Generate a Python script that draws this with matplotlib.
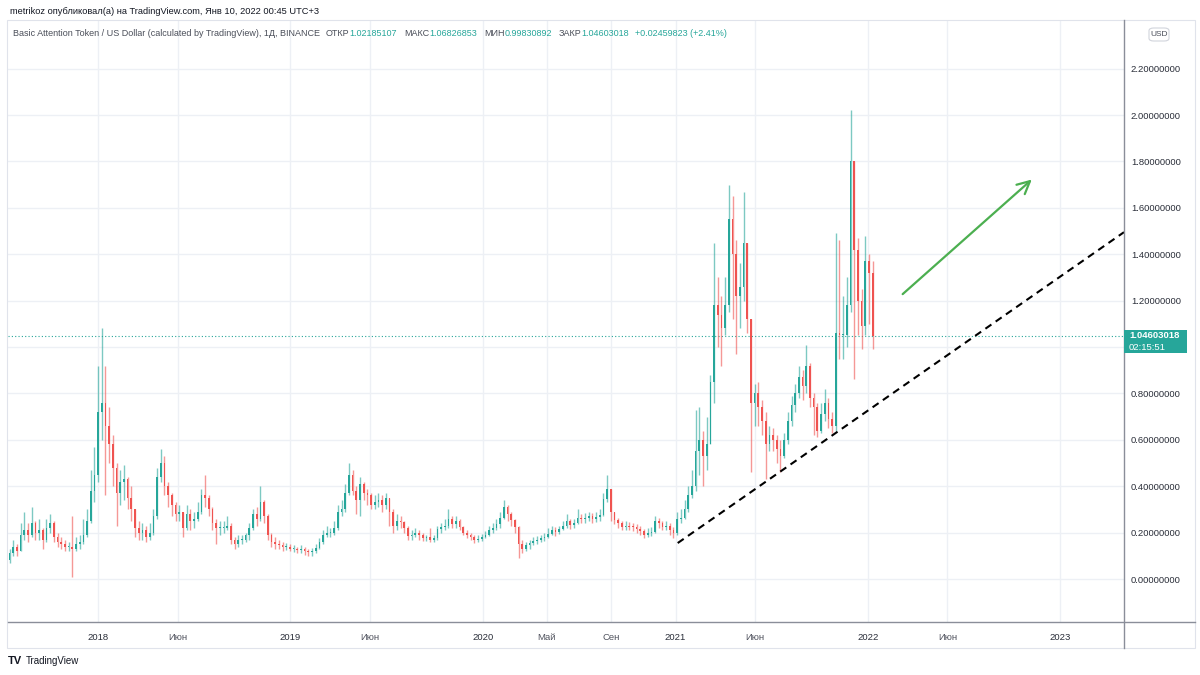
import numpy as np
import pandas as pd
import matplotlib
matplotlib.use("Agg")
import matplotlib.pyplot as plt
import matplotlib.dates as mdates
from matplotlib.lines import Line2D
from matplotlib.patches import Rectangle, FancyBboxPatch

plt.rcParams['font.family'] = ['Liberation Sans', 'DejaVu Sans']

# BAT/USD (Binance), weekly candles
start_date = "2017-07-17"
first_open = 0.08
closes = [0.11, 0.14, 0.12, 0.19, 0.21, 0.19, 0.24, 0.20, 0.21, 0.17,
          0.22, 0.24, 0.18, 0.16, 0.15, 0.14, 0.14, 0.13, 0.15, 0.16,
          0.19, 0.25, 0.38, 0.45, 0.72, 0.76, 0.66, 0.58, 0.48, 0.37,
          0.42, 0.43, 0.35, 0.30, 0.22, 0.20, 0.21, 0.18, 0.20, 0.27,
          0.44, 0.50, 0.40, 0.36, 0.32, 0.28, 0.29, 0.22, 0.28, 0.25,
          0.26, 0.29, 0.36, 0.35, 0.30, 0.24, 0.22, 0.22, 0.22, 0.23,
          0.17, 0.15, 0.17, 0.17, 0.19, 0.22, 0.28, 0.26, 0.33, 0.27,
          0.19, 0.16, 0.15, 0.145, 0.14, 0.14, 0.13, 0.13, 0.125, 0.13,
          0.12, 0.115, 0.12, 0.135, 0.16, 0.19, 0.20, 0.20, 0.22, 0.29,
          0.30, 0.37, 0.45, 0.38, 0.34, 0.41, 0.37, 0.36, 0.32, 0.33,
          0.34, 0.32, 0.35, 0.29, 0.23, 0.25, 0.245, 0.22, 0.185, 0.19,
          0.20, 0.19, 0.175, 0.18, 0.17, 0.175, 0.215, 0.225, 0.23, 0.26,
          0.235, 0.25, 0.225, 0.20, 0.19, 0.18, 0.168, 0.174, 0.18, 0.19,
          0.21, 0.22, 0.235, 0.265, 0.31, 0.28, 0.255, 0.225, 0.15, 0.13,
          0.145, 0.155, 0.165, 0.168, 0.175, 0.182, 0.195, 0.21, 0.203, 0.215,
          0.23, 0.25, 0.232, 0.24, 0.265, 0.26, 0.262, 0.272, 0.26, 0.267,
          0.275, 0.345, 0.39, 0.29, 0.255, 0.24, 0.225, 0.23, 0.225, 0.224,
          0.217, 0.205, 0.19, 0.20, 0.203, 0.25, 0.24, 0.225, 0.23, 0.21,
          0.20, 0.26, 0.265, 0.30, 0.36, 0.40, 0.55, 0.60, 0.53, 0.58,
          0.85, 1.18, 1.14, 1.08, 1.18, 1.55, 1.40, 1.22, 1.26, 1.45,
          1.12, 0.76, 0.80, 0.74, 0.68, 0.58, 0.62, 0.60, 0.56, 0.53,
          0.60, 0.68, 0.75, 0.80, 0.87, 0.83, 0.92, 0.78, 0.74, 0.64,
          0.71, 0.76, 0.69, 0.66, 1.06, 1.05, 1.05, 1.18, 1.80, 1.42,
          1.20, 1.09, 1.37, 1.32, 1.046]
highs = [0.13, 0.17, 0.15, 0.24, 0.29, 0.24, 0.31, 0.25, 0.26, 0.22,
         0.26, 0.28, 0.25, 0.20, 0.18, 0.17, 0.16, 0.27, 0.18, 0.19,
         0.26, 0.30, 0.47, 0.57, 0.92, 1.08, 0.92, 0.74, 0.62, 0.50,
         0.47, 0.49, 0.44, 0.40, 0.30, 0.25, 0.24, 0.23, 0.24, 0.30,
         0.48, 0.56, 0.53, 0.42, 0.37, 0.33, 0.32, 0.29, 0.32, 0.30,
         0.29, 0.33, 0.39, 0.45, 0.36, 0.31, 0.26, 0.25, 0.25, 0.27,
         0.24, 0.18, 0.19, 0.19, 0.20, 0.24, 0.30, 0.31, 0.40, 0.34,
         0.28, 0.20, 0.18, 0.17, 0.16, 0.155, 0.15, 0.145, 0.14, 0.145,
         0.14, 0.13, 0.135, 0.15, 0.175, 0.21, 0.23, 0.22, 0.25, 0.32,
         0.34, 0.41, 0.50, 0.47, 0.40, 0.44, 0.42, 0.39, 0.37, 0.36,
         0.37, 0.36, 0.37, 0.35, 0.30, 0.28, 0.27, 0.25, 0.23, 0.21,
         0.22, 0.21, 0.20, 0.19, 0.22, 0.19, 0.23, 0.24, 0.26, 0.30,
         0.27, 0.27, 0.26, 0.23, 0.21, 0.20, 0.19, 0.19, 0.195, 0.205,
         0.23, 0.24, 0.26, 0.29, 0.34, 0.32, 0.29, 0.26, 0.23, 0.17,
         0.16, 0.17, 0.18, 0.185, 0.19, 0.20, 0.22, 0.23, 0.225, 0.23,
         0.25, 0.28, 0.26, 0.26, 0.30, 0.28, 0.285, 0.29, 0.285, 0.29,
         0.30, 0.37, 0.45, 0.37, 0.29, 0.265, 0.25, 0.25, 0.245, 0.24,
         0.235, 0.23, 0.215, 0.22, 0.225, 0.27, 0.265, 0.25, 0.25, 0.24,
         0.225, 0.29, 0.30, 0.34, 0.40, 0.47, 0.73, 0.74, 0.64, 0.70,
         0.88, 1.45, 1.30, 1.22, 1.30, 1.70, 1.65, 1.46, 1.36, 1.67,
         1.42, 1.10, 0.84, 0.85, 0.77, 0.72, 0.66, 0.65, 0.62, 0.60,
         0.63, 0.72, 0.79, 0.84, 0.92, 0.90, 1.01, 0.93, 0.80, 0.76,
         0.76, 0.82, 0.78, 0.72, 1.49, 1.46, 1.22, 1.30, 2.02, 1.72,
         1.47, 1.25, 1.48, 1.40, 1.37]
lows = [0.07, 0.10, 0.10, 0.12, 0.17, 0.16, 0.18, 0.17, 0.17, 0.13,
        0.16, 0.20, 0.16, 0.14, 0.13, 0.12, 0.12, 0.01, 0.12, 0.13,
        0.15, 0.18, 0.24, 0.33, 0.42, 0.60, 0.36, 0.50, 0.40, 0.23,
        0.32, 0.34, 0.30, 0.25, 0.18, 0.17, 0.17, 0.16, 0.17, 0.19,
        0.26, 0.42, 0.36, 0.31, 0.27, 0.25, 0.25, 0.18, 0.21, 0.21,
        0.22, 0.25, 0.28, 0.31, 0.27, 0.21, 0.15, 0.19, 0.20, 0.21,
        0.15, 0.13, 0.14, 0.15, 0.16, 0.17, 0.21, 0.23, 0.25, 0.24,
        0.17, 0.14, 0.13, 0.13, 0.12, 0.125, 0.12, 0.115, 0.11, 0.11,
        0.105, 0.10, 0.10, 0.11, 0.13, 0.15, 0.18, 0.18, 0.19, 0.21,
        0.27, 0.29, 0.36, 0.36, 0.28, 0.27, 0.34, 0.32, 0.30, 0.30,
        0.31, 0.29, 0.30, 0.23, 0.20, 0.21, 0.22, 0.20, 0.17, 0.17,
        0.18, 0.17, 0.165, 0.165, 0.16, 0.16, 0.17, 0.20, 0.21, 0.22,
        0.22, 0.22, 0.21, 0.19, 0.175, 0.17, 0.155, 0.16, 0.165, 0.175,
        0.185, 0.20, 0.21, 0.22, 0.26, 0.25, 0.23, 0.20, 0.09, 0.11,
        0.12, 0.13, 0.145, 0.15, 0.16, 0.165, 0.175, 0.19, 0.185, 0.195,
        0.21, 0.22, 0.215, 0.22, 0.235, 0.24, 0.24, 0.25, 0.24, 0.245,
        0.25, 0.27, 0.33, 0.25, 0.235, 0.22, 0.21, 0.21, 0.21, 0.205,
        0.20, 0.19, 0.175, 0.18, 0.185, 0.20, 0.22, 0.21, 0.21, 0.19,
        0.175, 0.19, 0.24, 0.26, 0.29, 0.35, 0.38, 0.45, 0.40, 0.47,
        0.58, 0.76, 1.00, 0.92, 1.05, 1.15, 1.12, 0.97, 1.08, 1.20,
        1.06, 0.46, 0.66, 0.66, 0.62, 0.43, 0.55, 0.55, 0.50, 0.46,
        0.52, 0.58, 0.66, 0.72, 0.78, 0.77, 0.80, 0.74, 0.62, 0.61,
        0.63, 0.68, 0.65, 0.63, 0.64, 0.95, 0.95, 1.00, 1.15, 0.86,
        1.05, 0.99, 1.05, 1.10, 0.99]

# last daily bar shown in the legend
last_open = 1.02185107
last_high = 1.06826853
last_low = 0.99830892
last_close = 1.04603018
last_change = 0.02459823
last_change_pct = 2.41
countdown = "02:15:51"

# drawings on the chart
trend_dates = ["2021-01-05", "2023-05-02"]
trend_prices = [0.155, 1.495]
arrow_dates = ["2022-03-04", "2022-11-12"]
arrow_prices = [1.22, 1.73]

y_ticks = [0.0, 0.2, 0.4, 0.6, 0.8, 1.0, 1.2, 1.4, 1.6, 1.8, 2.0, 2.2]
x_tick_dates = ["2018-01-01", "2018-06-01", "2019-01-01", "2019-06-01", "2020-01-01",
                "2020-05-01", "2020-09-01", "2021-01-01", "2021-06-01", "2022-01-01",
                "2022-06-01", "2023-01-01"]
x_tick_labels = ["2018", "Июн", "2019", "Июн", "2020", "Май", "Сен", "2021",
                 "Июн", "2022", "Июн", "2023"]

UP = "#26a69a"
DOWN = "#ef5350"
GRID = "#edf0f5"
TEXT = "#131722"

W, H = 1200, 675


def fbox(x0, y0, x1, y1):
    return [x0 / W, 1 - y1 / H, (x1 - x0) / W, (y1 - y0) / H]


fig = plt.figure(figsize=(12, 6.75), dpi=100)
fig.patch.set_facecolor("white")
ax = fig.add_axes(fbox(8, 20, 1124, 622))
ax.set_facecolor("white")

# candles
c = np.array(closes)
o = np.concatenate([[first_open], c[:-1]])
hi = np.maximum(np.array(highs), np.maximum(o, c))
lo = np.minimum(np.array(lows), np.minimum(o, c))
dates = pd.date_range(start_date, periods=len(c), freq="7D")
xd = mdates.date2num(dates)
cols = np.where(c >= o, UP, DOWN)

ax.vlines(xd, lo, hi, colors=cols, linewidth=1.0, alpha=0.6, zorder=3)
body_h = np.maximum(np.abs(c - o), 0.004)
ax.bar(xd, body_h, bottom=np.minimum(o, c), width=3.2, color=cols,
       linewidth=0, zorder=4)

# current price line
ax.axhline(last_close, color=UP, linestyle=(0, (1, 2)), linewidth=0.8, zorder=2)

# trend line and arrow
td = mdates.date2num(pd.to_datetime(trend_dates))
ax.plot(td, trend_prices, color="black", linewidth=1.5,
        linestyle=(0, (3.5, 2.5)), zorder=5, solid_capstyle="butt")
ad = mdates.date2num(pd.to_datetime(arrow_dates))
ax.annotate("", xy=(ad[1], arrow_prices[1]), xytext=(ad[0], arrow_prices[0]),
            arrowprops=dict(arrowstyle="->,head_length=0.9,head_width=0.45",
                            color="#4caf50", linewidth=1.6), zorder=5)

# axes limits and ticks (the 1.0 label sits under the price badge)
ax.set_xlim(mdates.date2num(pd.Timestamp("2017-07-14")),
            mdates.date2num(pd.Timestamp("2023-05-02")))
ax.set_ylim(-0.1853, 2.4095)
ax.set_yticks(y_ticks)
ax.set_yticklabels(["" if abs(v - 1.0) < 1e-9 else "%.8f" % v for v in y_ticks])
ax.yaxis.tick_right()
ax.tick_params(axis="y", length=0, pad=5, labelsize=6.8, labelcolor="#2a2e39")
ax.set_xticks(mdates.date2num(pd.to_datetime(x_tick_dates)))
ax.set_xticklabels(x_tick_labels)
ax.tick_params(axis="x", length=0, pad=8, labelsize=6.8)
for lab in ax.get_xticklabels():
    if lab.get_text().isdigit():
        lab.set_color("#2a2e39")
    else:
        lab.set_color("#50535e")
ax.grid(True, color=GRID, linewidth=1.0, zorder=0)
ax.set_axisbelow(True)
for s in ax.spines.values():
    s.set_visible(False)

# frame and separators
fig.add_artist(Rectangle((7 / W, 1 - 648 / H), (1195 - 7) / W, (648 - 20) / H,
                         transform=fig.transFigure, fill=False,
                         edgecolor="#e0e3eb", linewidth=0.8))
fig.add_artist(Line2D([1124 / W, 1124 / W], [1 - 20 / H, 1 - 648 / H],
                      color="#8a8e99", linewidth=1.0))
fig.add_artist(Line2D([8 / W, 1195 / W], [1 - 622 / H, 1 - 622 / H],
                      color="#8a8e99", linewidth=1.0))

# price label on the right scale
fig.add_artist(Rectangle((1124 / W, 1 - 353 / H), 63 / W, 23 / H,
                         transform=fig.transFigure, facecolor=UP,
                         edgecolor="none", zorder=10))
fig.text(1129 / W, 1 - 336 / H, "%.8f" % last_close, color="white",
         fontsize=6.8, fontweight="bold", va="center", ha="left", zorder=11)
fig.text(1129 / W, 1 - 348 / H, countdown, color="white",
         fontsize=6.8, va="center", ha="left", zorder=11)

# USD badge
fig.add_artist(FancyBboxPatch((1149 / W, 1 - 41 / H), 20 / W, 13 / H,
                              boxstyle="round,pad=0,rounding_size=0.004",
                              transform=fig.transFigure, facecolor="white",
                              edgecolor="#d1d4dc", linewidth=0.8))
fig.text(1159 / W, 1 - 34.5 / H, "USD", color="#4a4e59", fontsize=6,
         ha="center", va="center")

# header
fig.text(10 / W, 1 - 11 / H,
         "metrikoz опубликовал(а) на TradingView.com, Янв 10, 2022 00:45 UTC+3",
         color=TEXT, fontsize=6.7, va="center", ha="left")

# legend row with OHLC values
fig.canvas.draw()
r = fig.canvas.get_renderer()
parts = [
    ("Basic Attention Token / US Dollar (calculated by TradingView), 1Д, BINANCE", "#4a4e59", 6),
    ("ОТКР", "#4a4e59", 0), ("%.8f" % last_open, UP, 7),
    ("МАКС", "#4a4e59", 0), ("%.8f" % last_high, UP, 7),
    ("МИН", "#4a4e59", 0), ("%.8f" % last_low, UP, 7),
    ("ЗАКР", "#4a4e59", 0), ("%.8f" % last_close, UP, 6),
    ("%+.8f (%+.2f%%)" % (last_change, last_change_pct), UP, 0),
]
xpos = 13
for txt, col, gap in parts:
    t = fig.text(xpos / W, 1 - 33 / H, txt, color=col, fontsize=6.45,
                 va="center", ha="left")
    xpos += t.get_window_extent(renderer=r).width + gap

# TradingView logo
fig.text(8 / W, 1 - 661 / H, "TV", color=TEXT, fontsize=8, fontweight="heavy",
         va="center", ha="left")
fig.text(26 / W, 1 - 661 / H, "TradingView", color=TEXT, fontsize=7,
         va="center", ha="left")

fig.savefig("out.png", dpi=100, facecolor="white")
